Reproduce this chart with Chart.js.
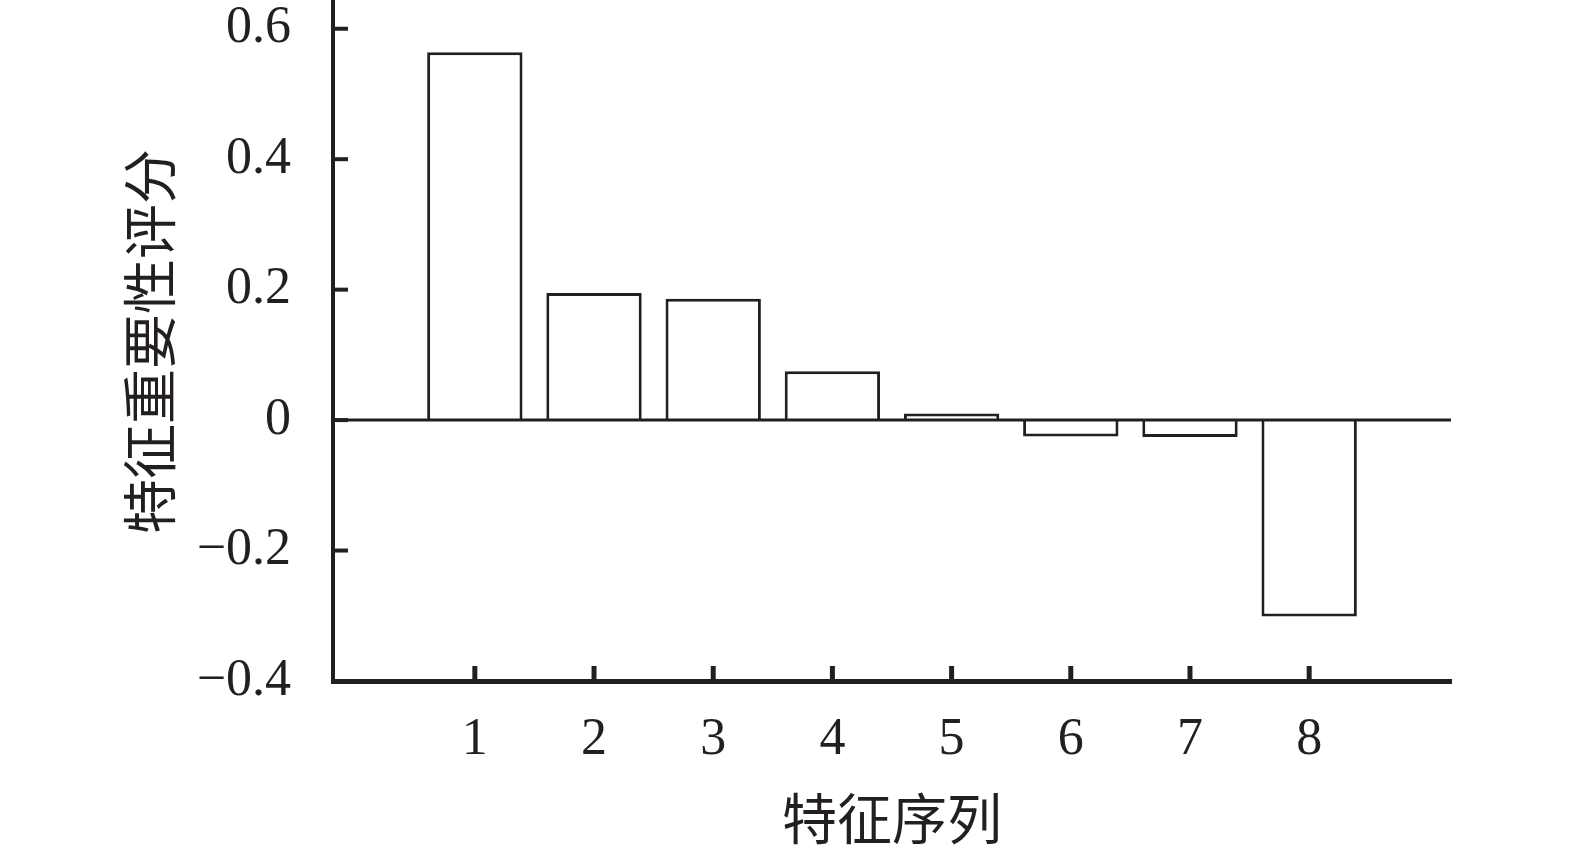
<!DOCTYPE html>
<html>
<head>
<meta charset="utf-8">
<script src="https://cdn.jsdelivr.net/npm/chart.js@4/dist/chart.umd.min.js"></script>
<style>
    body { margin: 0; background: #fff; }
    #wrap { width: 1575px; height: 852px; }
</style>
</head>
<body>
<div id="wrap"><canvas id="featureChart"></canvas></div>
<script>
// Feature importance scores per feature index
const categories = [1, 2, 3, 4, 5, 6, 7, 8];
const scores = [0.564, 0.195, 0.186, 0.075, 0.01, -0.025, -0.026, -0.301];
const yTickValues = [-0.4, -0.2, 0, 0.2, 0.4, 0.6];

const ink = '#231f20';
const serif = "'Liberation Serif', 'DejaVu Serif', serif";
const cjk = "'Noto Sans CJK SC', 'Noto Sans', sans-serif";

function formatTick(v) {
    if (Math.abs(v) < 1e-9) return '0';
    const s = Math.abs(v).toFixed(1);
    return v < 0 ? '\u2212' + s : s;
}

// zero line over the bars + inward tick marks on both axes
const innerTicks = {
    id: 'innerTicks',
    afterDatasetsDraw(chart) {
        const ctx = chart.ctx;
        const area = chart.chartArea;
        const xs = chart.scales.x;
        const ys = chart.scales.y;
        ctx.save();
        ctx.strokeStyle = ink;

        // zero baseline
        const y0 = ys.getPixelForValue(0);
        ctx.lineWidth = 3;
        ctx.beginPath();
        ctx.moveTo(area.left, y0);
        ctx.lineTo(area.right, y0);
        ctx.stroke();

        ctx.lineWidth = 4;
        ys.ticks.forEach(t => {
            const py = ys.getPixelForValue(t.value);
            ctx.beginPath();
            ctx.moveTo(area.left, py);
            ctx.lineTo(area.left + 15, py);
            ctx.stroke();
        });
        ctx.lineWidth = 5;
        xs.ticks.forEach(t => {
            const px = xs.getPixelForValue(t.value);
            ctx.beginPath();
            ctx.moveTo(px, area.bottom);
            ctx.lineTo(px, area.bottom - 15);
            ctx.stroke();
        });
        ctx.restore();
    }
};

document.addEventListener('DOMContentLoaded', function () {
    const ctx = document.getElementById('featureChart');
    new Chart(ctx, {
        type: 'bar',
        data: {
            datasets: [{
                data: categories.map((c, i) => ({ x: c, y: scores[i] })),
                backgroundColor: '#ffffff',
                borderColor: ink,
                borderWidth: 3,
                borderSkipped: 'start',
                barPercentage: 0.8,
                categoryPercentage: 1
            }]
        },
        options: {
            responsive: true,
            maintainAspectRatio: false,
            animation: false,
            layout: { padding: { top: 2, right: 124, left: 0, bottom: 0 } },
            plugins: {
                legend: { display: false },
                tooltip: { enabled: false }
            },
            scales: {
                x: {
                    type: 'linear',
                    offset: false,
                    min: -0.19,
                    max: 9.19,
                    afterBuildTicks: s => { s.ticks = categories.map(v => ({ value: v })); },
                    afterFit: s => { s.height = 171; s.paddingLeft = 0; s.paddingRight = 0; },
                    border: { display: true, color: ink, width: 5 },
                    grid: { offset: false, drawOnChartArea: false, drawTicks: false },
                    ticks: {
                        padding: 28,
                        color: ink,
                        autoSkip: false,
                        maxRotation: 0,
                        font: { family: serif, size: 52 }
                    },
                    title: {
                        display: true,
                        text: '特征序列',
                        color: ink,
                        font: { family: cjk, size: 55, lineHeight: 1 },
                        padding: { top: 0, bottom: 6 }
                    }
                },
                y: {
                    min: -0.4,
                    max: 0.641,
                    afterBuildTicks: s => { s.ticks = yTickValues.map(v => ({ value: v })); },
                    afterFit: s => { s.width = 333; s.paddingTop = 0; s.paddingBottom = 0; },
                    border: { display: true, color: ink, width: 4 },
                    grid: { display: false, drawTicks: false },
                    ticks: {
                        padding: 42,
                        color: ink,
                        font: { family: serif, size: 52 },
                        callback: v => formatTick(v)
                    },
                    title: {
                        display: true,
                        text: '特征重要性评分',
                        color: ink,
                        font: { family: cjk, size: 55, lineHeight: 1 },
                        padding: { top: 122, bottom: 0 }
                    }
                }
            }
        },
        plugins: [innerTicks]
    });
});
</script>
</body>
</html>
